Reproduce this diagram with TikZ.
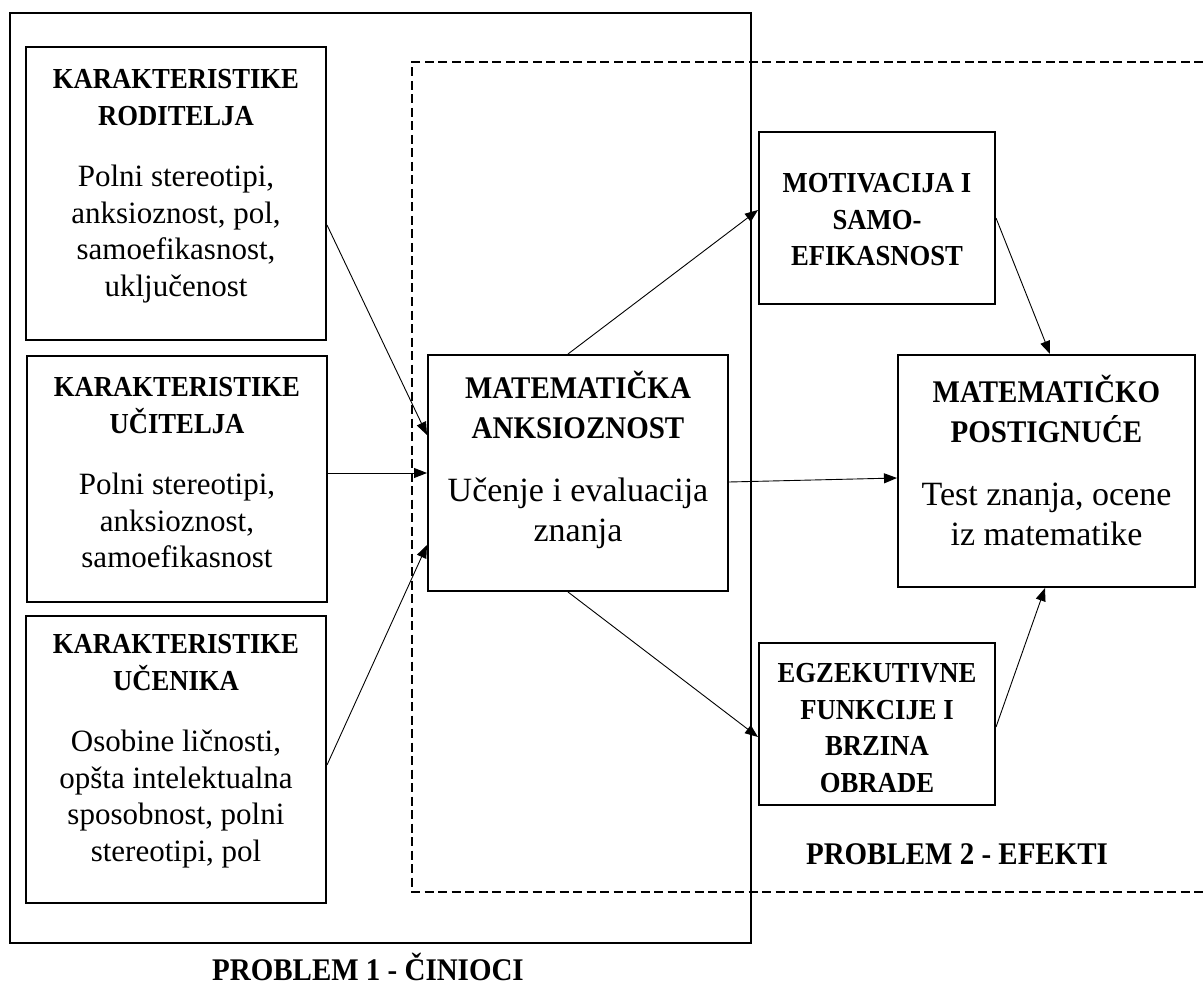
\documentclass[tikz,border=0pt]{standalone}
\usepackage{fontspec}
\setmainfont{Liberation Serif}[BoldFeatures={FakeStretch=0.92}]
\usetikzlibrary{arrows.meta}
\newcommand{\hdfont}{\fontsize{29}{36.5}\selectfont\bfseries}
\newcommand{\bdfont}{\fontsize{31}{36.5}\selectfont\mdseries}
\newcommand{\bighd}{\fontsize{31.5}{40}\selectfont\bfseries}
\newcommand{\bigbd}{\fontsize{34}{40}\selectfont\mdseries}
\newcommand{\probfont}{\fontsize{31.5}{36}\selectfont\bfseries}

\begin{document}
\begin{tikzpicture}[x=1pt,y=-1pt]
	\tikzstyle{every node}+=[inner sep=0pt]
	\tikzstyle{box}=[draw, line width=2pt]
	\tikzstyle{txt}=[align=center, font=\hdfont]
	\tikzstyle{bigtxt}=[align=center, font=\bighd]
	\tikzstyle{arr}=[line width=0.9pt, -{Triangle[length=13pt,width=10pt]}]
	\useasboundingbox (0,0) rectangle (1203,987);
	\draw [line width=2.2pt] (10,13) rectangle (751,943);
	\draw [line width=2pt, dash pattern=on 9pt off 4.5pt] (1203,62) -- (412,62) -- (412,892) -- (1203,892);
	% left column
	\node [box, minimum width=300pt, minimum height=293pt] (rod) at (176,193.5) {};
	\node [txt] (rodtxt) at (176,186) {KARAKTERISTIKE\\RODITELJA\\[25pt]\bdfont Polni stereotipi,\\\bdfont anksioznost, pol,\\\bdfont samoefikasnost,\\\bdfont uključenost};
	\node [box, minimum width=300pt, minimum height=246pt] (uci) at (177,479) {};
	\node [txt] (ucitxt) at (177,473) {KARAKTERISTIKE\\UČITELJA\\[25pt]\bdfont Polni stereotipi,\\\bdfont anksioznost,\\\bdfont samoefikasnost};
	\node [box, minimum width=300pt, minimum height=287pt] (uce) at (176,759.5) {};
	\node [txt] (ucetxt) at (176,751) {KARAKTERISTIKE\\UČENIKA\\[25pt]\bdfont Osobine ličnosti,\\\bdfont opšta intelektualna\\\bdfont sposobnost, polni\\\bdfont stereotipi, pol};
	% middle
	\node [box, minimum width=300pt, minimum height=236pt] (anx) at (578,473) {};
	\node [bigtxt] (anxtxt) at (578,460) {MATEMATIČKA\\ANKSIOZNOST\\[23pt]\bigbd Učenje i evaluacija\\\bigbd znanja};
	% right
	\node [box, minimum width=236pt, minimum height=172pt] (mot) at (877,218) {};
	\node [txt] (mottxt) at (877,220) {MOTIVACIJA I\\SAMO-\\EFIKASNOST};
	\node [box, minimum width=236pt, minimum height=162pt] (egz) at (877,724) {};
	\node [txt] (egztxt) at (877,728) {EGZEKUTIVNE\\FUNKCIJE I\\BRZINA\\OBRADE};
	\node [box, minimum width=297pt, minimum height=232pt] (post) at (1046.5,471) {};
	\node [bigtxt] (posttxt) at (1046.5,460) {MATEMATIČKO\\POSTIGNUĆE\\[23pt]\bigbd Test znanja, ocene\\\bigbd iz matematike};
	% labels
	\node [font=\probfont, anchor=base] (prob1) at (368,980) {PROBLEM 1 - ČINIOCI};
	\node [font=\probfont, anchor=base] (prob2) at (957,864) {PROBLEM 2 - EFEKTI};
	% connectors
	\draw [arr] ([yshift=-31.5pt]rod.east) -- ([yshift=38pt]anx.west);
	\draw [arr] (uci.east |- anx.west) -- (anx.west);
	\draw [arr] ([yshift=-5.5pt]uce.east) -- ([yshift=-72pt]anx.west);
	\draw [arr] ([xshift=-10pt]anx.north) -- ([yshift=8pt]mot.west);
	\draw [arr] ([yshift=-9pt]anx.east) -- ([yshift=-7pt]post.west);
	\draw [arr] ([xshift=-10pt]anx.south) -- ([yshift=-13pt]egz.west);
	\draw [arr] (mot.east) -- ([xshift=3.5pt]post.north);
	\draw [arr] ([yshift=-3pt]egz.east) -- ([xshift=-1.5pt]post.south);
\end{tikzpicture}
\end{document}
